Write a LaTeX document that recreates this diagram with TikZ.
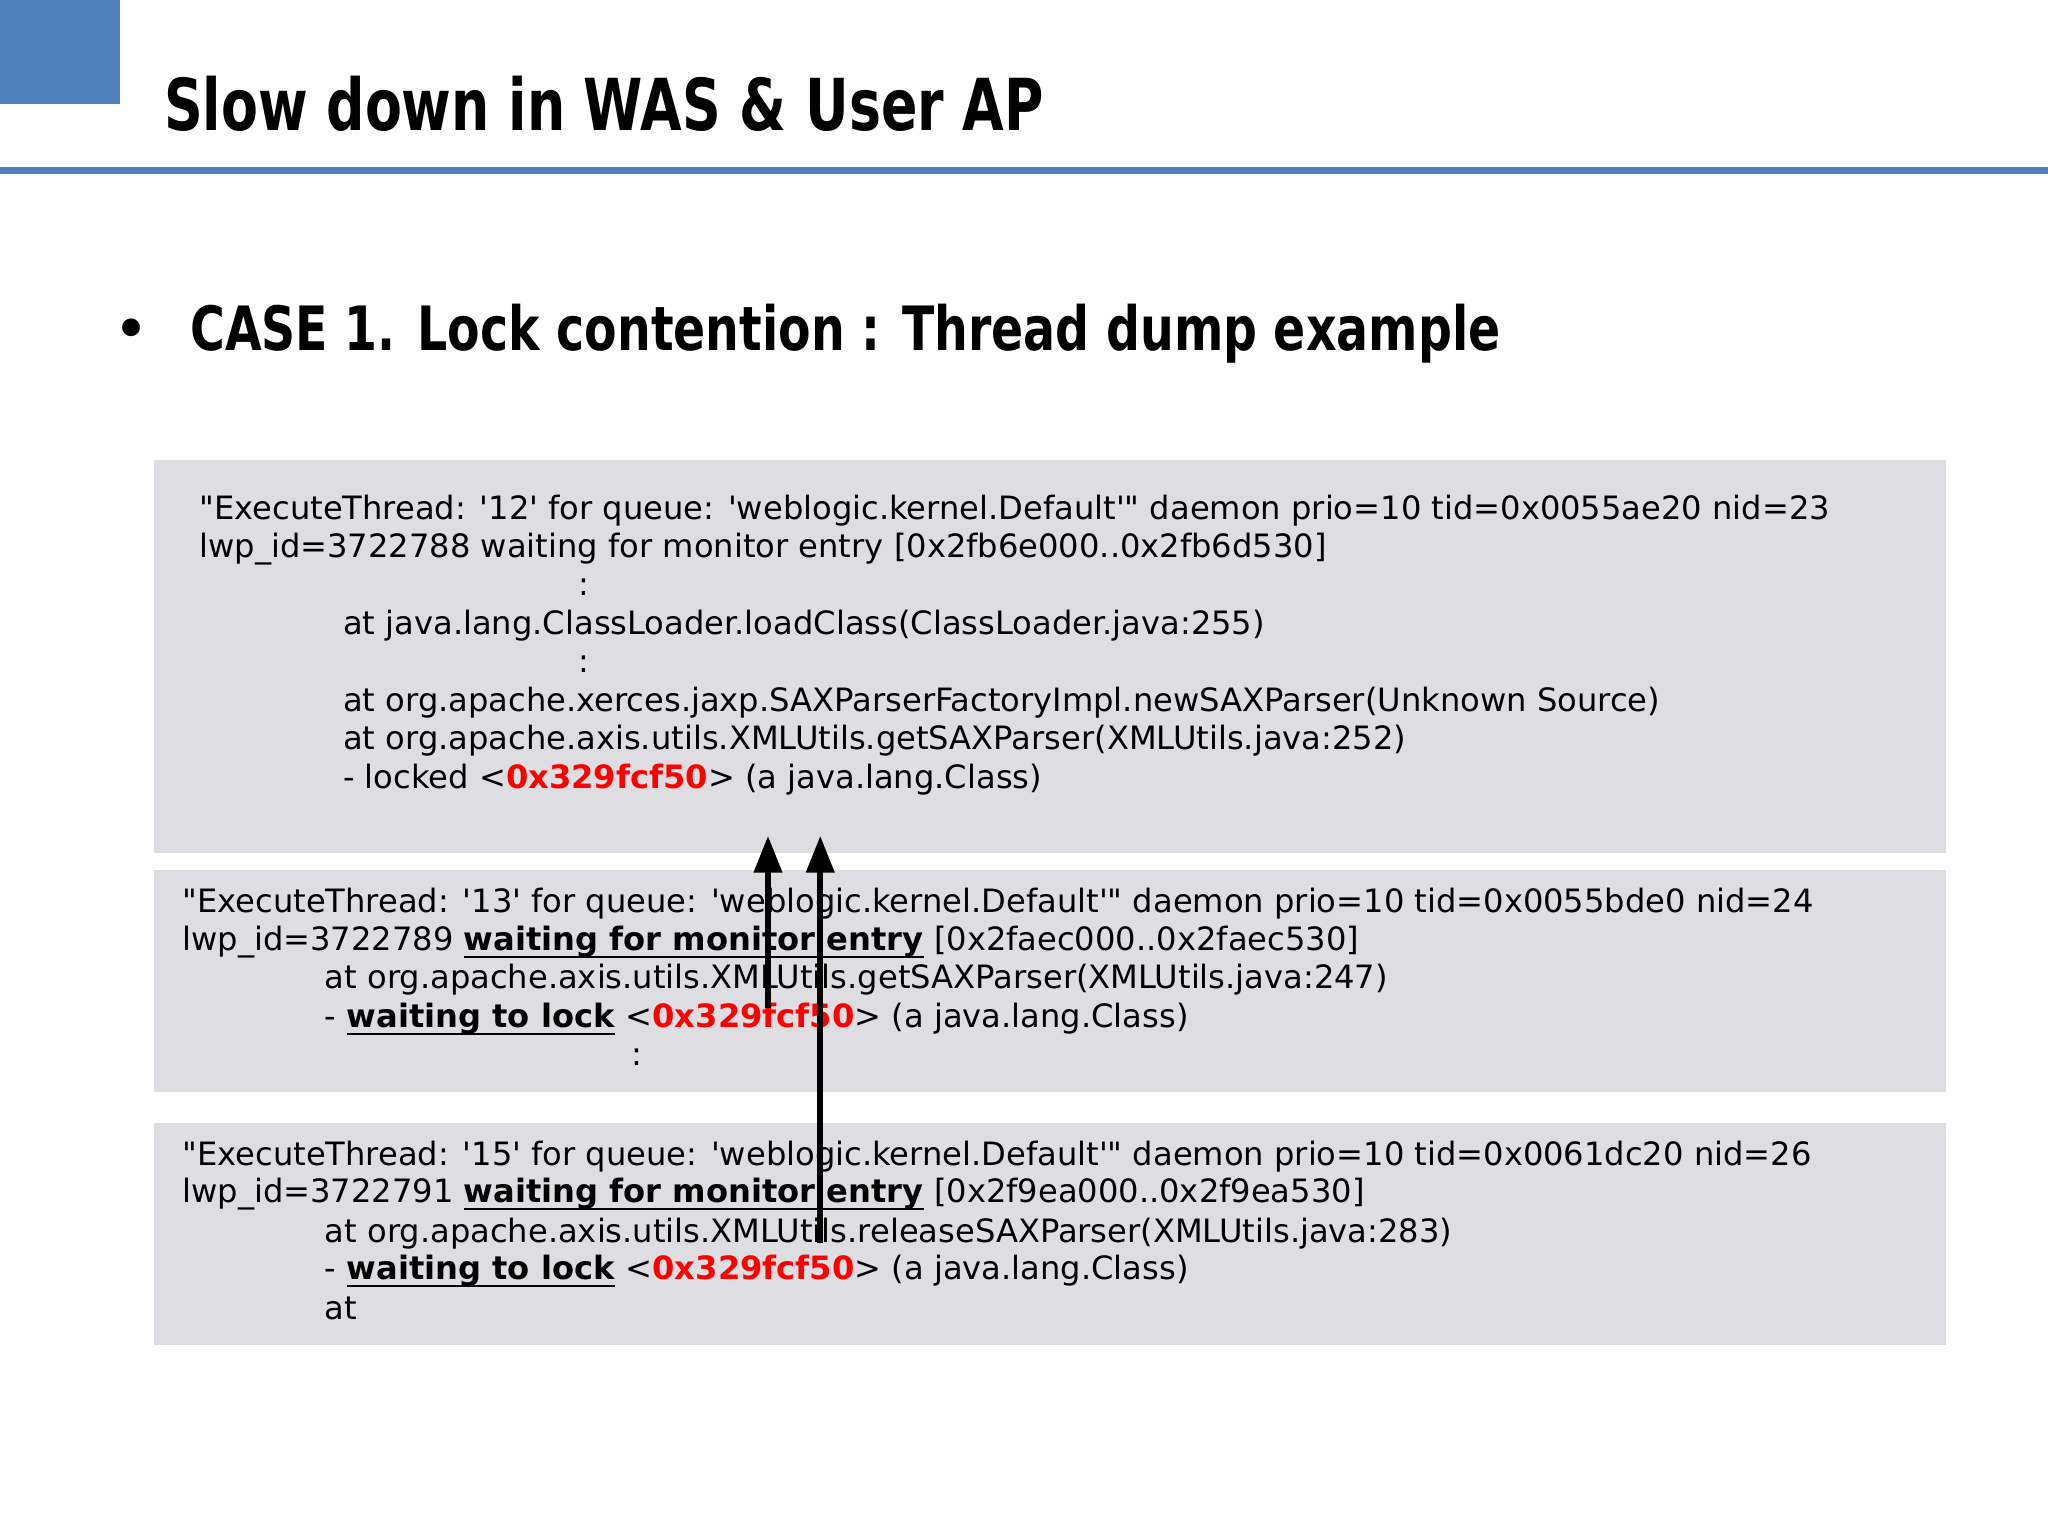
\documentclass[tikz,border=0pt]{standalone}
\usepackage{fontspec}
\setmainfont{DejaVu Sans}
\usetikzlibrary{arrows.meta}
\definecolor{hdr}{RGB}{79,129,189}
\definecolor{boxg}{RGB}{222,221,226}
\definecolor{redt}{RGB}{255,0,0}
\newcommand{\rd}[1]{\textcolor{redt}{\textbf{#1}}}
\newcommand{\sq}{\textquotesingle}
\newcommand{\dq}{\textquotedbl}
\newlength{\ulw}
\newcommand{\ul}[1]{\settowidth{\ulw}{\textbf{#1}}\textbf{#1}\hspace{-\ulw}\rule[-1.6pt]{\ulw}{0.5pt}}
\begin{document}
\begin{tikzpicture}[x=0.01cm,y=-0.01cm,
  ln/.style={anchor=base west,inner sep=0pt,font=\fontsize{7}{8}\selectfont},
  gbox/.style={fill=boxg,draw=none},
  arr/.style={line width=1.2pt,-{Triangle[length=8pt,width=6pt]}}]
\useasboundingbox (0,0) rectangle (1568,1176);
\fill[white] (0,0) rectangle (1568,1176);
\fill[hdr] (0,0) rectangle (92,80);
\fill[hdr] (0,128) rectangle (1568,133);
\node[anchor=base west,inner sep=0pt,font=\fontsize{15.6}{18}\selectfont\bfseries] (title) at (125,100) {\scalebox{0.75}[1]{Slow down in WAS \& User AP}};
\node[anchor=base west,inner sep=0pt,font=\fontsize{13.3}{16}\selectfont] (bul) at (86,268) {•};
\node[anchor=base west,inner sep=0pt,font=\fontsize{13.3}{16}\selectfont\bfseries] (case) at (145,268) {\scalebox{0.776}[1]{CASE 1. Lock contention : Thread dump example}};
\fill[gbox] (118,352) rectangle (1490,653);
\fill[gbox] (118,666) rectangle (1490,836);
\fill[gbox] (118,860) rectangle (1490,1030);
% box 1
\node[ln] (a1) at (152,398) {\dq ExecuteThread: \sq12\sq{} for queue: \sq weblogic.kernel.Default\sq\dq{} daemon prio=10 tid=0x0055ae20 nid=23};
\node[ln] (a2) at (152,427) {lwp\_id=3722788 waiting for monitor entry [0x2fb6e000..0x2fb6d530]};
\node[ln] (a3) at (442,456) {:};
\node[ln] (a4) at (262,486) {at java.lang.ClassLoader.loadClass(ClassLoader.java:255)};
\node[ln] (a5) at (442,515) {:};
\node[ln] (a6) at (262,545) {at org.apache.xerces.jaxp.SAXParserFactoryImpl.newSAXParser(Unknown Source)};
\node[ln] (a7) at (262,574) {at org.apache.axis.utils.XMLUtils.getSAXParser(XMLUtils.java:252)};
\node[ln] (a8) at (262,604) {- locked <\rd{0x329fcf50}> (a java.lang.Class)};
% box 2
\node[ln] (b1) at (139,699) {\dq ExecuteThread: \sq13\sq{} for queue: \sq weblogic.kernel.Default\sq\dq{} daemon prio=10 tid=0x0055bde0 nid=24};
\node[ln] (b2) at (139,728) {lwp\_id=3722789 \ul{waiting for monitor entry} [0x2faec000..0x2faec530]};
\node[ln] (b3) at (248,757) {at org.apache.axis.utils.XMLUtils.getSAXParser(XMLUtils.java:247)};
\node[ln] (b4) at (248,787) {- \ul{waiting to lock} <\rd{0x329fcf50}> (a java.lang.Class)};
\node[ln] (b5) at (483,816) {:};
% box 3
\node[ln] (c1) at (139,892) {\dq ExecuteThread: \sq15\sq{} for queue: \sq weblogic.kernel.Default\sq\dq{} daemon prio=10 tid=0x0061dc20 nid=26};
\node[ln] (c2) at (139,921) {lwp\_id=3722791 \ul{waiting for monitor entry} [0x2f9ea000..0x2f9ea530]};
\node[ln] (c3) at (248,951) {at org.apache.axis.utils.XMLUtils.releaseSAXParser(XMLUtils.java:283)};
\node[ln] (c4) at (248,980) {- \ul{waiting to lock} <\rd{0x329fcf50}> (a java.lang.Class)};
\node[ln] (c5) at (248,1010) {at};
\coordinate (s1) at (588,772);
\coordinate (t1) at (588,640);
\coordinate (s2) at (628,952);
\coordinate (t2) at (628,640);
\draw[arr] (s1) -- (t1);
\draw[arr] (s2) -- (t2);
\end{tikzpicture}
\end{document}
